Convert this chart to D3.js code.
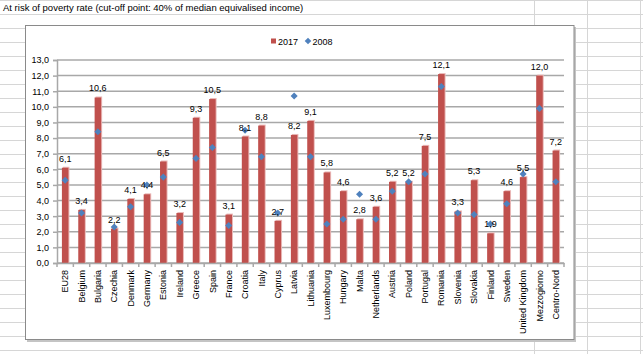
<!DOCTYPE html>
<html>
<head>
<meta charset="utf-8">
<script src="https://cdn.jsdelivr.net/npm/d3@7"></script>
<style>
  body { margin: 0; background: #fff; }
  svg { display: block; font-family: "Liberation Sans", Arial, sans-serif; }
</style>
</head>
<body>
<div id="chart"></div>
<script>
const countries = ["EU28", "Belgium", "Bulgaria", "Czechia", "Denmark", "Germany", "Estonia", "Ireland",
  "Greece", "Spain", "France", "Croatia", "Italy", "Cyprus", "Latvia", "Lithuania", "Luxembourg",
  "Hungary", "Malta", "Netherlands", "Austria", "Poland", "Portugal", "Romania", "Slovenia",
  "Slovakia", "Finland", "Sweden", "United Kingdom", "Mezzogiorno", "Centro-Nord"];

const rate2017 = [6.1, 3.4, 10.6, 2.2, 4.1, 4.4, 6.5, 3.2, 9.3, 10.5, 3.1, 8.1, 8.8, 2.7, 8.2, 9.1, 5.8,
  4.6, 2.8, 3.6, 5.2, 5.2, 7.5, 12.1, 3.3, 5.3, 1.9, 4.6, 5.5, 12.0, 7.2];

const rate2008 = [5.3, 3.2, 8.4, 2.3, 3.6, 5.0, 5.5, 2.6, 6.7, 7.4, 2.4, 8.5, 6.8, 3.2, 10.7, 6.8, 2.5,
  2.8, 4.4, 2.8, 4.6, 5.2, 5.7, 11.3, 3.2, 3.1, 2.5, 3.8, 5.7, 9.9, 5.2];

const yTicks = [0, 1, 2, 3, 4, 5, 6, 7, 8, 9, 10, 11, 12, 13];

const W = 643, H = 354;
const comma = v => d3.format(".1f")(v).replace(".", ",");

const svg = d3.select("#chart")
  .append("svg")
  .attr("width", W)
  .attr("height", H);

// spreadsheet cells behind the chart
svg.selectAll(".row-line")
  .data(d3.range(0.5, H, 14))
  .enter()
  .append("line")
  .attr("x1", 0).attr("x2", W)
  .attr("y1", d => d).attr("y2", d => d)
  .attr("stroke", "#d6d6d6");

svg.selectAll(".col-line")
  .data([534.5, 587.5, 640.5])
  .enter()
  .append("line")
  .attr("x1", d => d).attr("x2", d => d)
  .attr("y1", 0).attr("y2", H)
  .attr("stroke", "#d6d6d6");

svg.append("text")
  .attr("x", 3)
  .attr("y", 11)
  .style("font-size", "9.5px")
  .style("fill", "#000")
  .text("At risk of poverty rate (cut-off point: 40% of median equivalised income)");

// chart object with shadow
svg.append("rect")
  .attr("x", 27).attr("y", 27)
  .attr("width", 549).attr("height", 315)
  .attr("fill", "#c4c4c4");
svg.append("rect")
  .attr("x", 25.5).attr("y", 25.5)
  .attr("width", 548.5).attr("height", 314)
  .attr("fill", "#fff")
  .attr("stroke", "#8a8a8a");

const plot = { left: 57, right: 564, top: 60, bottom: 263 };

const x = d3.scaleBand()
  .domain(countries)
  .range([plot.left, plot.right])
  .padding(0);

const y = d3.scaleLinear()
  .domain([0, 13])
  .range([plot.bottom, plot.top]);

const barW = x.bandwidth() * 0.4;

// gridlines
svg.append("g")
  .selectAll("line")
  .data(yTicks)
  .enter()
  .append("line")
  .attr("x1", plot.left).attr("x2", plot.right)
  .attr("y1", d => y(d)).attr("y2", d => y(d))
  .attr("stroke", "#a8a8a8")
  .attr("stroke-width", 1.5);

// y axis
svg.append("g")
  .attr("transform", `translate(${plot.left},0)`)
  .call(d3.axisLeft(y).tickValues(yTicks).tickFormat(comma).tickSize(4).tickPadding(4))
  .call(g => g.select(".domain").attr("stroke", "#a8a8a8").attr("stroke-width", 1.5))
  .call(g => {
    g.selectAll(".tick line").attr("stroke", "#a8a8a8").attr("stroke-width", 1.5);
    g.selectAll(".tick text")
      .style("font-family", "Liberation Sans, Arial, sans-serif")
      .style("font-size", "9px")
      .style("fill", "#000");
  });

// bars: light edge first, then the bar
svg.selectAll(".bar-edge")
  .data(countries)
  .enter()
  .append("rect")
  .attr("x", d => x(d) + x.bandwidth() / 2 - barW / 2 + 1)
  .attr("y", (d, i) => y(rate2017[i]) - 1)
  .attr("width", barW)
  .attr("height", (d, i) => plot.bottom - y(rate2017[i]) + 1)
  .attr("fill", "#eab9b8");

svg.selectAll(".bar")
  .data(countries)
  .enter()
  .append("rect")
  .attr("x", d => x(d) + x.bandwidth() / 2 - barW / 2)
  .attr("y", (d, i) => y(rate2017[i]))
  .attr("width", barW)
  .attr("height", (d, i) => plot.bottom - y(rate2017[i]))
  .attr("fill", "#c0504d");

// x axis
svg.append("g")
  .attr("transform", `translate(0,${plot.bottom})`)
  .call(d3.axisBottom(x).tickSize(0).tickFormat(""))
  .call(g => g.select(".domain").attr("stroke", "#a8a8a8").attr("stroke-width", 1.5))
  .call(g => g.selectAll(".tick").remove());

svg.selectAll(".x-tick")
  .data(countries.concat([null]))
  .enter()
  .append("line")
  .attr("x1", (d, i) => plot.left + i * x.step())
  .attr("x2", (d, i) => plot.left + i * x.step())
  .attr("y1", plot.bottom)
  .attr("y2", plot.bottom + 4)
  .attr("stroke", "#a8a8a8")
  .attr("stroke-width", 1.5);

svg.selectAll(".x-label")
  .data(countries)
  .enter()
  .append("text")
  .attr("transform", d => `translate(${x(d) + x.bandwidth() / 2},270) rotate(-90)`)
  .attr("dy", "0.35em")
  .attr("text-anchor", "end")
  .style("font-size", "9px")
  .style("fill", "#000")
  .text(d => d);

// 2008 markers
svg.selectAll(".marker")
  .data(countries)
  .enter()
  .append("path")
  .attr("d", d3.symbol(d3.symbolSquare, 25))
  .attr("transform", (d, i) => `translate(${x(d) + x.bandwidth() / 2},${y(rate2008[i])}) rotate(45)`)
  .attr("fill", "#4f81bd");

// value labels
svg.selectAll(".value")
  .data(countries)
  .enter()
  .append("text")
  .attr("x", d => x(d) + x.bandwidth() / 2)
  .attr("y", (d, i) => y(rate2017[i]) - 6)
  .attr("text-anchor", "middle")
  .style("font-size", "9px")
  .style("fill", "#000")
  .text((d, i) => comma(rate2017[i]));

// legend
const legend = svg.append("g");
legend.append("rect")
  .attr("x", 271).attr("y", 38.5)
  .attr("width", 5).attr("height", 5)
  .attr("fill", "#c0504d");
legend.append("text")
  .attr("x", 278).attr("y", 44.5)
  .style("font-size", "9px")
  .text("2017");
legend.append("path")
  .attr("d", d3.symbol(d3.symbolSquare, 22))
  .attr("transform", "translate(308,41) rotate(45)")
  .attr("fill", "#4f81bd");
legend.append("text")
  .attr("x", 312.5).attr("y", 44.5)
  .style("font-size", "9px")
  .text("2008");
</script>
</body>
</html>
